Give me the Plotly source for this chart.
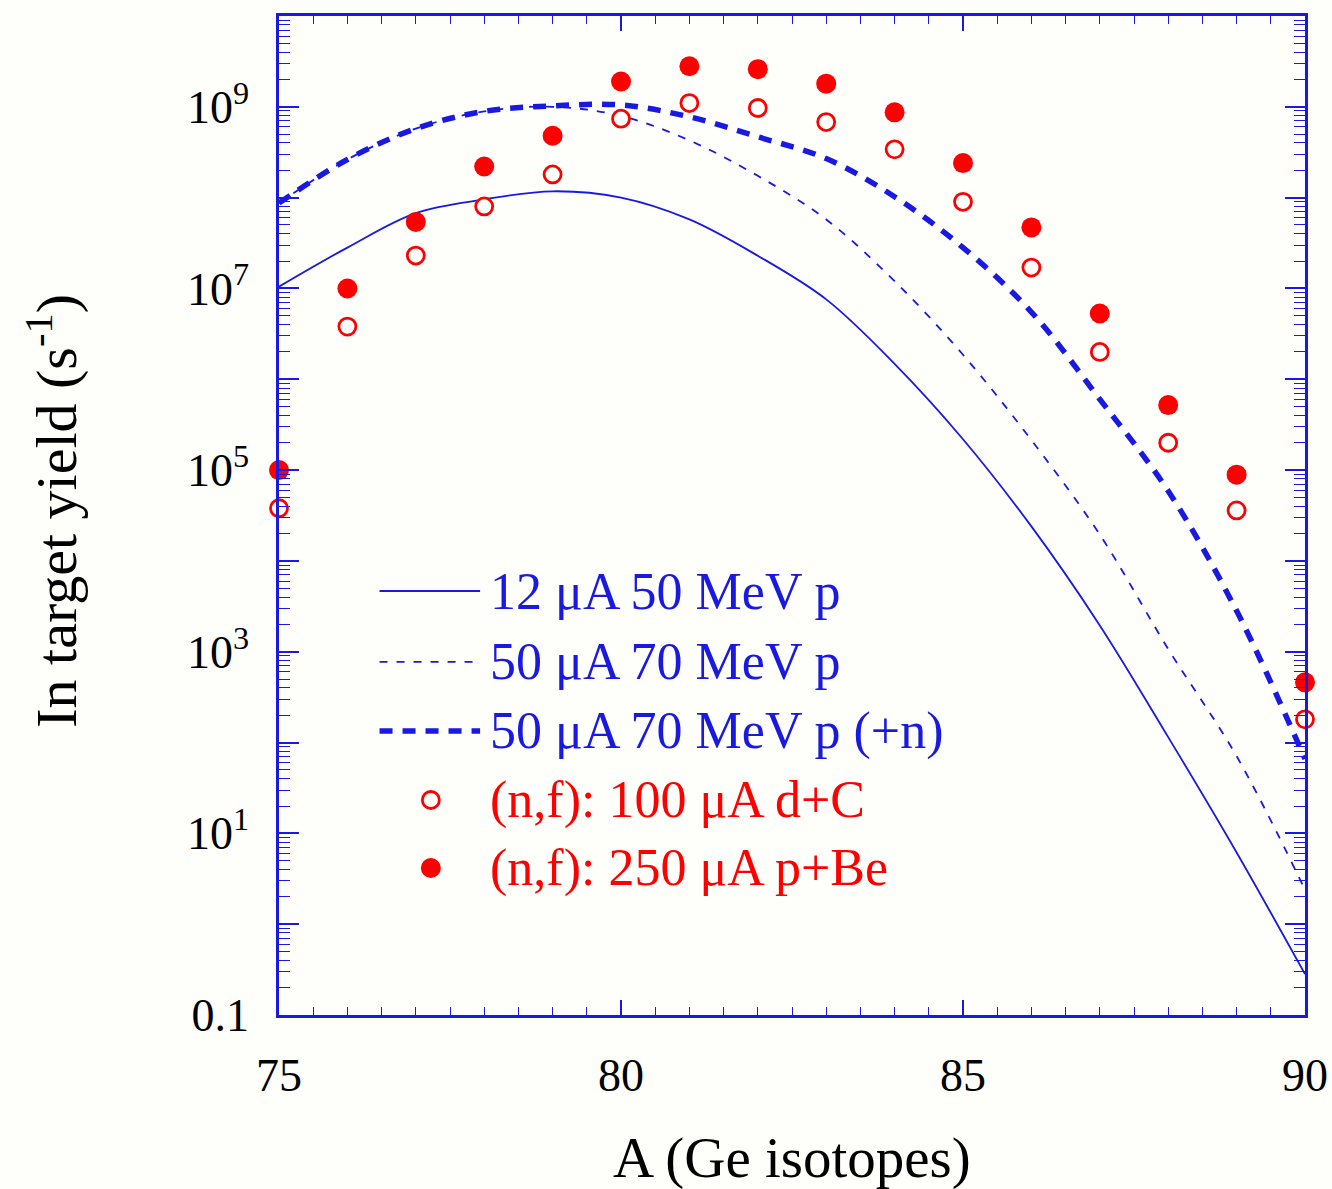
import plotly.graph_objects as go

# ---- data ----
A = [75, 76, 77, 78, 79, 80, 81, 82, 83, 84, 85, 86, 87, 88, 89, 90]

# log10 of yields for the three calculated curves
log_12uA_50MeV = [7.02, 7.45, 7.83, 7.98, 8.07, 8.00, 7.76, 7.36, 6.88, 6.17, 5.34, 4.38, 3.29, 2.06, 0.79, -0.55]
log_50uA_70MeV = [7.94, 8.42, 8.76, 8.95, 9.00, 8.90, 8.63, 8.24, 7.76, 7.08, 6.27, 5.33, 4.29, 3.03, 1.85, 0.38]
log_50uA_70MeV_n = [7.94, 8.42, 8.76, 8.95, 9.01, 9.02, 8.89, 8.67, 8.43, 8.01, 7.45, 6.74, 5.78, 4.77, 3.45, 1.82]

# (n,f) data points
nf_dC = [3.8e4, 3.8e6, 2.3e7, 8.0e7, 1.8e8, 7.4e8, 1.1e9, 9.7e8, 6.8e8, 3.4e8, 9.0e7, 1.7e7, 2.0e6, 2.0e5, 3.6e4, 1.8e2]
nf_pBe = [1.0e5, 1.0e7, 5.4e7, 2.2e8, 4.8e8, 1.9e9, 2.8e9, 2.6e9, 1.8e9, 8.7e8, 2.4e8, 4.7e7, 5.3e6, 5.2e5, 8.9e4, 4.6e2]

x_ticks = [75, 80, 85, 90]
y_decades = list(range(-1, 11))
y_tick_text = {-1: "0.1", 1: "10<sup>1</sup>", 3: "10<sup>3</sup>", 5: "10<sup>5</sup>",
               7: "10<sup>7</sup>", 9: "10<sup>9</sup>"}

legend_labels = ["12 \u03bcA 50 MeV p", "50 \u03bcA 70 MeV p", "50 \u03bcA 70 MeV p (+n)",
                 "(n,f): 100 \u03bcA d+C", "(n,f): 250 \u03bcA p+Be"]

BLUE = "rgb(25,25,225)"
RED = "rgb(255,0,0)"
FONT = "Liberation Serif"

def to_lin(v):
    return [10 ** t for t in v]

fig = go.Figure()
fig.add_trace(go.Scatter(x=A, y=to_lin(log_12uA_50MeV), mode="lines", line=dict(color=BLUE, width=1.8, shape="spline"), showlegend=False))
fig.add_trace(go.Scatter(x=A, y=to_lin(log_50uA_70MeV), mode="lines", line=dict(color=BLUE, width=1.8, dash="8px,9px", shape="spline"), showlegend=False))
fig.add_trace(go.Scatter(x=A, y=to_lin(log_50uA_70MeV_n), mode="lines", line=dict(color=BLUE, width=5.5, dash="13px,10px", shape="spline"), showlegend=False))
fig.add_trace(go.Scatter(x=A, y=nf_dC, mode="markers", cliponaxis=False,
                         marker=dict(symbol="circle", size=17, color="white", line=dict(color=RED, width=2.8)), showlegend=False))
fig.add_trace(go.Scatter(x=A, y=nf_pBe, mode="markers", cliponaxis=False,
                         marker=dict(symbol="circle", size=20, color=RED, line=dict(width=0)), showlegend=False))

# ---- manual legend ----
leg_y = [0.4244, 0.3534, 0.2843, 0.2152, 0.1471]
line_styles = [dict(color=BLUE, width=1.8), dict(color=BLUE, width=1.8, dash="8px,9px"), dict(color=BLUE, width=5.5, dash="13px,10px")]
shapes = []
for i in range(3):
    shapes.append(dict(type="line", xref="paper", yref="paper", x0=0.098, x1=0.196, y0=leg_y[i], y1=leg_y[i], line=line_styles[i]))
shapes.append(dict(type="circle", xref="paper", yref="paper", xsizemode="pixel", ysizemode="pixel",
                   xanchor=0.148, yanchor=leg_y[3], x0=-8.5, x1=8.5, y0=-8.5, y1=8.5,
                   fillcolor="white", line=dict(color=RED, width=2.8)))
shapes.append(dict(type="circle", xref="paper", yref="paper", xsizemode="pixel", ysizemode="pixel",
                   xanchor=0.148, yanchor=leg_y[4], x0=-10, x1=10, y0=-10, y1=10,
                   fillcolor=RED, line=dict(color=RED, width=0)))

annotations = []
for i, lab in enumerate(legend_labels):
    annotations.append(dict(text=lab, xref="paper", yref="paper", x=0.204, y=leg_y[i], xanchor="left", yanchor="middle",
                            showarrow=False, font=dict(family=FONT, size=52, color=BLUE if i < 3 else RED)))
annotations.append(dict(text="A (Ge isotopes)", xref="paper", yref="paper", x=0.5, y=-0.143, xanchor="center", yanchor="middle",
                        showarrow=False, font=dict(family=FONT, size=57, color="black")))
annotations.append(dict(text="In target yield (s<sup>-1</sup>)", xref="paper", yref="paper", x=-0.221, y=0.505, xanchor="center", yanchor="middle",
                        textangle=-90, showarrow=False, font=dict(family=FONT, size=58, color="black")))

minor_y = [m * 10 ** d for d in range(-1, 10) for m in range(2, 10)]

fig.update_layout(
    width=1332, height=1189,
    margin=dict(l=279, r=27, t=16, b=174, autoexpand=False),
    paper_bgcolor="#fefefb", plot_bgcolor="#fefefb",
    shapes=shapes, annotations=annotations,
    font=dict(family=FONT, color="black"),
)
fig.update_xaxes(range=[75, 90], tickvals=x_ticks, ticktext=[str(v) for v in x_ticks], automargin=False,
                 ticks="inside", ticklen=15, tickwidth=1.5, tickcolor=BLUE,
                 minor=dict(dtick=0.5, ticks="inside", ticklen=8, tickwidth=1.2, tickcolor=BLUE),
                 showline=True, linecolor=BLUE, linewidth=2.5, mirror="ticks", showgrid=False, zeroline=False,
                 tickfont=dict(family=FONT, size=46, color="black"), ticklabelstandoff=18)
fig.update_yaxes(type="log", range=[-1, 10], tickvals=[10 ** d for d in y_decades], automargin=False,
                 ticktext=[y_tick_text.get(d, "") for d in y_decades],
                 ticks="inside", ticklen=20, tickwidth=1.5, tickcolor=BLUE,
                 minor=dict(tickvals=minor_y, ticks="inside", ticklen=11, tickwidth=1.2, tickcolor=BLUE),
                 showline=True, linecolor=BLUE, linewidth=2.5, mirror="ticks", showgrid=False, zeroline=False,
                 tickfont=dict(family=FONT, size=46, color="black"), ticklabelstandoff=18)

# remove the default page margin so the figure fills the window exactly
fig.write_html("out.html", config={"displayModeBar": False},
               post_script="document.body.style.margin='0';document.body.style.overflow='hidden';")
